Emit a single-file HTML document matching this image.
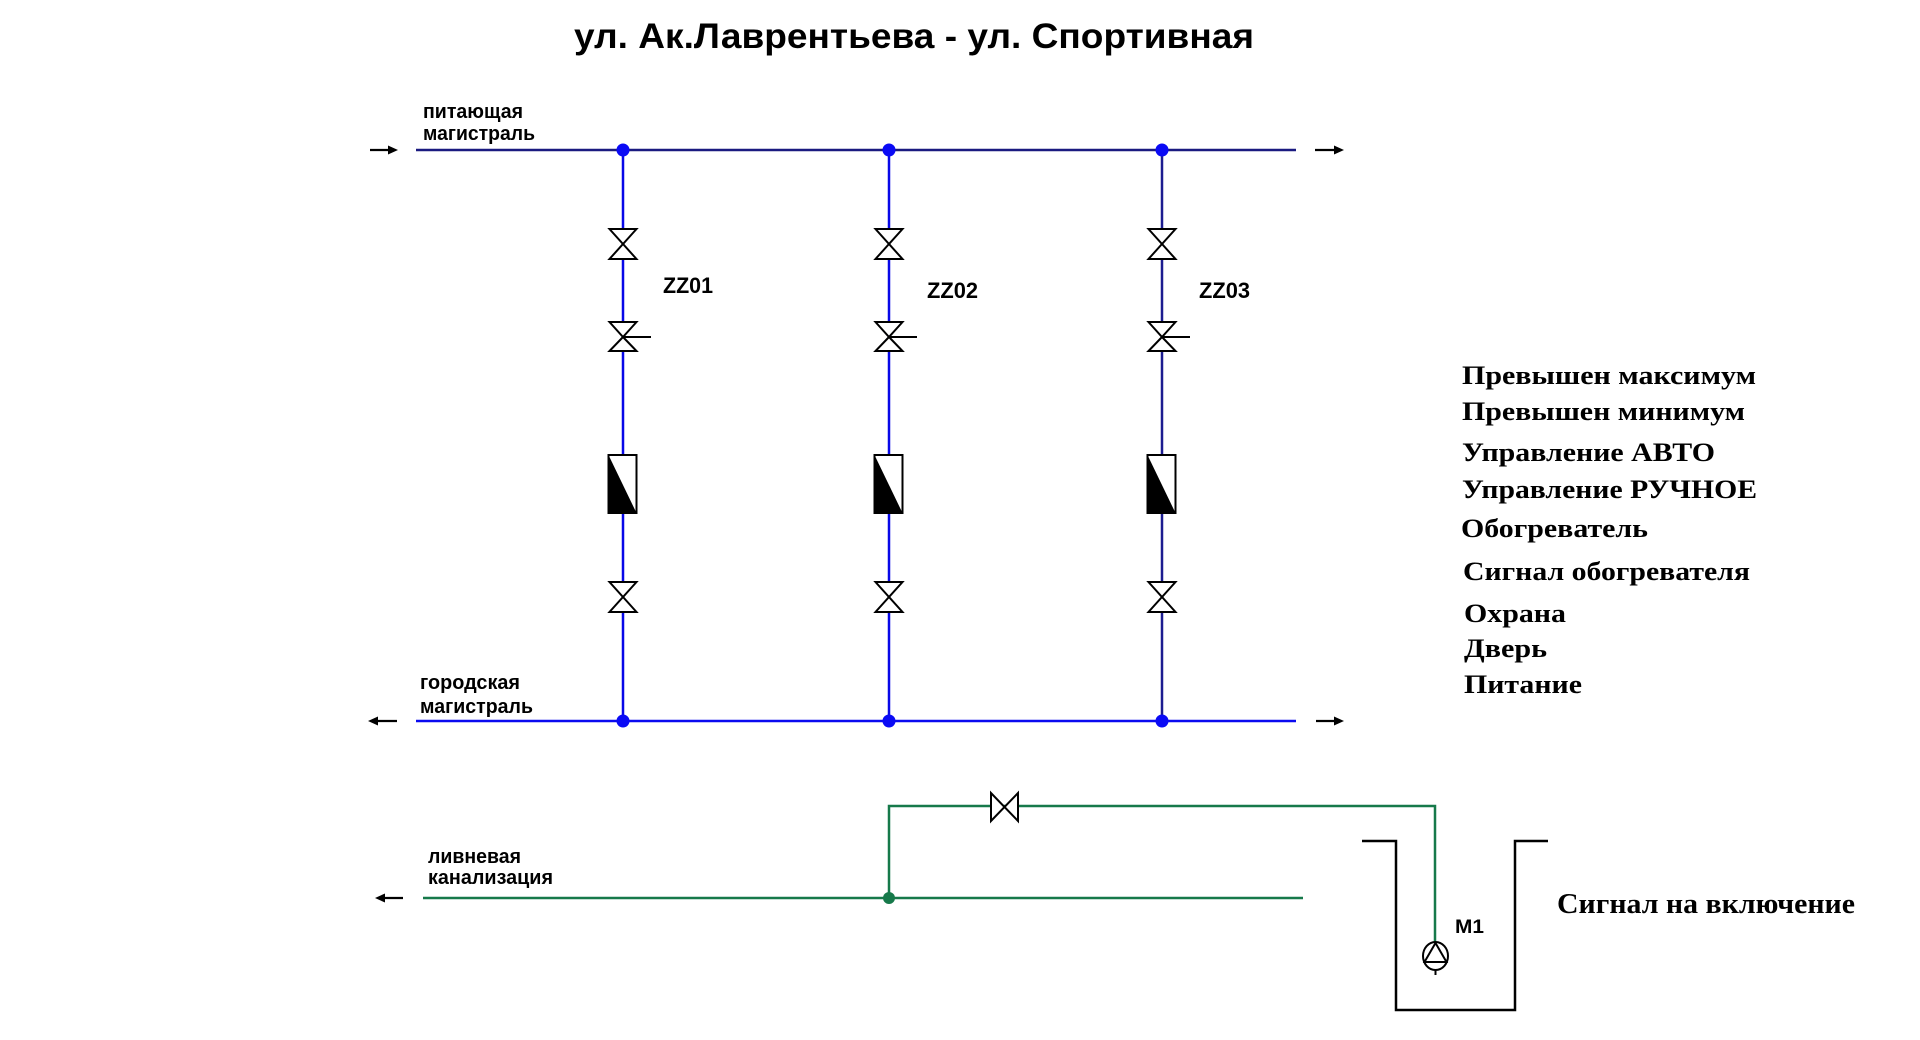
<!DOCTYPE html>
<html><head><meta charset="utf-8"><style>
html,body{margin:0;padding:0;background:#fff;}
svg{display:block;}
.s{font-family:"Liberation Sans",Arial,sans-serif;font-weight:bold;fill:#000;}
.r{font-family:"Liberation Serif","Times New Roman",serif;font-weight:bold;fill:#000;}
</style></head><body>
<svg width="1920" height="1040" viewBox="0 0 1920 1040" xmlns="http://www.w3.org/2000/svg">
<rect width="1920" height="1040" fill="#fff"/>
<text class="s" x="574" y="48" font-size="35" textLength="680" lengthAdjust="spacingAndGlyphs">ул. Ак.Лаврентьева - ул. Спортивная</text>

<!-- labels -->
<text class="s" x="423" y="118" font-size="20" textLength="100" lengthAdjust="spacingAndGlyphs">питающая</text>
<text class="s" x="423" y="140" font-size="20" textLength="112" lengthAdjust="spacingAndGlyphs">магистраль</text>
<text class="s" x="420" y="689" font-size="20" textLength="100" lengthAdjust="spacingAndGlyphs">городская</text>
<text class="s" x="420" y="713" font-size="20" textLength="113" lengthAdjust="spacingAndGlyphs">магистраль</text>
<text class="s" x="428" y="863" font-size="20" textLength="93" lengthAdjust="spacingAndGlyphs">ливневая</text>
<text class="s" x="428" y="884" font-size="20" textLength="125" lengthAdjust="spacingAndGlyphs">канализация</text>

<!-- arrows -->
<g stroke="#000" stroke-width="2.2" fill="#000">
<line x1="370" y1="150" x2="391" y2="150"/><polygon points="398,150 388,145.5 388,154.5" stroke="none"/>
<line x1="1315" y1="150" x2="1337" y2="150"/><polygon points="1344,150 1334,145.5 1334,154.5" stroke="none"/>
<line x1="375" y1="721" x2="397" y2="721"/><polygon points="368,721 378,716.5 378,725.5" stroke="none"/>
<line x1="1316" y1="721" x2="1337" y2="721"/><polygon points="1344,721 1334,716.5 1334,725.5" stroke="none"/>
<line x1="382" y1="898" x2="403" y2="898"/><polygon points="375,898 385,893.5 385,902.5" stroke="none"/>
</g>

<!-- main lines -->
<line x1="416" y1="150" x2="1296" y2="150" stroke="#1a1a80" stroke-width="2.5"/>
<line x1="416" y1="721" x2="1296" y2="721" stroke="#0a0af0" stroke-width="2.5"/>

<!-- verticals -->
<line x1="623" y1="150" x2="623" y2="721" stroke="#0808e8" stroke-width="2.5"/>
<line x1="889" y1="150" x2="889" y2="721" stroke="#0808e8" stroke-width="2.5"/>
<line x1="1162" y1="150" x2="1162" y2="721" stroke="#1c1c90" stroke-width="2.5"/>

<!-- dots -->
<g fill="#0a0af5">
<circle cx="623" cy="150" r="6.5"/><circle cx="889" cy="150" r="6.5"/><circle cx="1162" cy="150" r="6.5"/>
<circle cx="623" cy="721" r="6.5"/><circle cx="889" cy="721" r="6.5"/><circle cx="1162" cy="721" r="6.5"/>
</g>

<!-- branch symbols -->
<defs>
<g id="br">
<polygon points="-13.5,229 13.5,229 0,244" fill="#fff" stroke="#000" stroke-width="2"/>
<polygon points="-13.5,259 13.5,259 0,244" fill="#fff" stroke="#000" stroke-width="2"/>
<polygon points="-13.5,322 13.5,322 0,337" fill="#fff" stroke="#000" stroke-width="2"/>
<polygon points="-13.5,351 13.5,351 0,337" fill="#fff" stroke="#000" stroke-width="2"/>
<line x1="0" y1="337" x2="28" y2="337" stroke="#000" stroke-width="2"/>
<rect x="-14.5" y="455" width="28" height="58" fill="#fff" stroke="#000" stroke-width="2"/>
<polygon points="-14.5,455 -14.5,513 13.5,513" fill="#000"/>
<polygon points="-13.5,582 13.5,582 0,597" fill="#fff" stroke="#000" stroke-width="2"/>
<polygon points="-13.5,612 13.5,612 0,597" fill="#fff" stroke="#000" stroke-width="2"/>
</g>
</defs>
<use href="#br" x="623" y="0"/>
<use href="#br" x="889" y="0"/>
<use href="#br" x="1162" y="0"/>

<text class="s" x="663" y="293" font-size="22" textLength="50" lengthAdjust="spacingAndGlyphs">ZZ01</text>
<text class="s" x="927" y="298" font-size="22" textLength="51" lengthAdjust="spacingAndGlyphs">ZZ02</text>
<text class="s" x="1199" y="298" font-size="22" textLength="51" lengthAdjust="spacingAndGlyphs">ZZ03</text>

<!-- right list -->
<text class="r" x="1462" y="384" font-size="26.5" textLength="294" lengthAdjust="spacingAndGlyphs">Превышен максимум</text>
<text class="r" x="1462" y="420" font-size="26.5" textLength="283" lengthAdjust="spacingAndGlyphs">Превышен минимум</text>
<text class="r" x="1462" y="461" font-size="26.5" textLength="253" lengthAdjust="spacingAndGlyphs">Управление АВТО</text>
<text class="r" x="1462" y="498" font-size="26.5" textLength="295" lengthAdjust="spacingAndGlyphs">Управление РУЧНОЕ</text>
<text class="r" x="1461" y="537" font-size="26.5" textLength="187" lengthAdjust="spacingAndGlyphs">Обогреватель</text>
<text class="r" x="1463" y="580" font-size="26.5" textLength="287" lengthAdjust="spacingAndGlyphs">Сигнал обогревателя</text>
<text class="r" x="1464" y="622" font-size="26.5" textLength="102" lengthAdjust="spacingAndGlyphs">Охрана</text>
<text class="r" x="1464" y="657" font-size="26.5" textLength="83" lengthAdjust="spacingAndGlyphs">Дверь</text>
<text class="r" x="1464" y="693" font-size="26.5" textLength="118" lengthAdjust="spacingAndGlyphs">Питание</text>

<!-- drainage -->
<g stroke="#16794a" stroke-width="2.5" fill="none">
<line x1="423" y1="898" x2="1303" y2="898"/>
<polyline points="889,898 889,806 1435,806 1435,942"/>
</g>
<circle cx="889" cy="898" r="6" fill="#16794a"/>
<polygon points="991,793 991,821 1004.5,807" fill="#fff" stroke="#000" stroke-width="2"/>
<polygon points="1018,793 1018,821 1004.5,807" fill="#fff" stroke="#000" stroke-width="2"/>

<!-- tank -->
<polyline points="1362,841 1396,841 1396,1010 1515,1010 1515,841 1548,841" fill="none" stroke="#000" stroke-width="2.5"/>

<!-- pump -->
<ellipse cx="1435.5" cy="956" rx="12.5" ry="14" fill="#fff" stroke="#000" stroke-width="2"/>
<polygon points="1435.5,943 1424.5,962 1446.5,962" fill="none" stroke="#000" stroke-width="2"/>
<line x1="1435.5" y1="970" x2="1435.5" y2="975" stroke="#000" stroke-width="2"/>

<text class="s" x="1455" y="933" font-size="19" textLength="29" lengthAdjust="spacingAndGlyphs">M1</text>
<text class="r" x="1557" y="913" font-size="28" textLength="298" lengthAdjust="spacingAndGlyphs">Сигнал на включение</text>
</svg>
</body></html>
